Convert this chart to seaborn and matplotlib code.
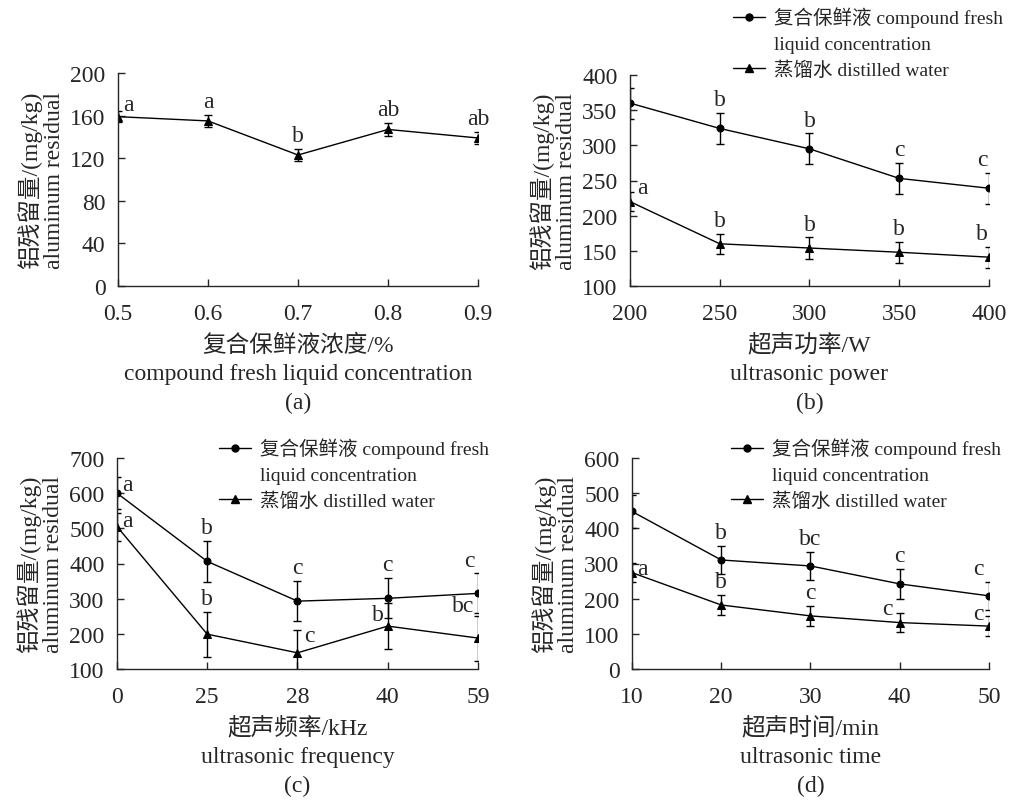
import matplotlib
matplotlib.use("Agg")
import matplotlib.pyplot as plt
from matplotlib.lines import Line2D
import numpy as np
import seaborn as sns

# (a) compound fresh liquid concentration
conc = [0.5, 0.6, 0.7, 0.8, 0.9]
conc_mean = [159, 155, 123, 147, 139]
conc_err = [5, 6, 6, 6, 6]
conc_letters = ["a", "a", "b", "ab", "ab"]

# (b) ultrasonic power
power = [200, 250, 300, 350, 400]
power_fresh = [360, 324, 295, 253, 239]
power_fresh_err = [22, 22, 22, 22, 22]
power_fresh_letters = ["", "b", "b", "c", "c"]
power_water = [220, 160, 154, 148, 141]
power_water_err = [14, 14, 15, 15, 15]
power_water_letters = ["a", "b", "b", "b", "b"]

# (c) ultrasonic frequency (categorical axis)
freq_labels = ["0", "25", "28", "40", "59"]
freq_fresh = [600, 406, 293, 301, 315]
freq_fresh_err = [45, 58, 57, 57, 57]
freq_fresh_letters = ["a", "b", "c", "c", "c"]
freq_water = [505, 199, 146, 222, 188]
freq_water_err = [40, 64, 65, 65, 64]
freq_water_letters = ["a", "b", "c", "b", "bc"]

# (d) ultrasonic time
time_min = [10, 20, 30, 40, 50]
time_fresh = [448, 310, 293, 242, 208]
time_fresh_err = [46, 41, 41, 42, 39]
time_fresh_letters = ["", "b", "bc", "c", "c"]
time_water = [274, 182, 151, 132, 122]
time_water_err = [28, 28, 28, 28, 28]
time_water_letters = ["a", "b", "c", "c", "c"]

FRESH = "复合保鲜液 compound fresh"
FRESH2 = "liquid concentration"
WATER = "蒸馏水 distilled water"
YLABEL = "铝残留量/(mg/kg)\naluminum residual"

sns.set_style("ticks")
plt.rcParams["font.family"] = ["Liberation Serif", "Noto Sans CJK SC"]
plt.rcParams["axes.linewidth"] = 1.0

FS = 17
C = (0, 2, "center", "bottom")   # default letter placement


def series(ax, xs, ys, errs, marker, ms):
    sns.lineplot(x=xs, y=ys, ax=ax, color="black", marker=marker, markersize=ms,
                 markeredgecolor="black", linewidth=1, errorbar=None)
    ax.errorbar(xs, ys, yerr=errs, fmt="none", ecolor="black", elinewidth=1,
                capsize=3, capthick=1)


def letters(ax, xs, ys, errs, labels, places):
    for x, y, e, t, (dx, dy, ha, va) in zip(xs, ys, errs, labels, places):
        ax.annotate(t, (x, y + e), xytext=(dx, dy), textcoords="offset points",
                    ha=ha, va=va, fontsize=FS, annotation_clip=False)


def style(ax, xlim, ylim, yticks, xlabel):
    ax.set_xlim(*xlim)
    ax.set_ylim(*ylim)
    ax.set_yticks(yticks)
    sns.despine(ax=ax)
    ax.tick_params(direction="in", length=5, width=1, labelsize=FS)
    ax.tick_params(axis="x", pad=12)
    ax.tick_params(axis="y", pad=9)
    ax.set_ylabel(YLABEL, fontsize=FS, labelpad=4, linespacing=1.1)
    ax.set_xlabel(xlabel, fontsize=FS, labelpad=7, linespacing=1.46)


def legend(ax, fig, x, y):
    h1 = Line2D([], [], color="black", marker="o", markersize=5, linewidth=1)
    hb = Line2D([], [], linestyle="none")
    h2 = Line2D([], [], color="black", marker="^", markersize=5.5, linewidth=1)
    ax.legend([h1, hb, h2], [FRESH, FRESH2, WATER], loc="upper left",
              bbox_to_anchor=(x, y), bbox_transform=fig.transFigure,
              frameon=False, fontsize=14, borderpad=0, handlelength=1.65,
              handletextpad=0.45, labelspacing=0.4)


fig = plt.figure(figsize=(10.12, 8.03), dpi=100)
W, H = 1012, 803


def axes_px(l, t, r, b):
    return fig.add_axes([l / W, 1 - b / H, (r - l) / W, (b - t) / H])


# (a)
ax = axes_px(118, 74, 478, 287)
series(ax, conc, conc_mean, conc_err, "^", 5.5)
letters(ax, conc, conc_mean, conc_err, conc_letters,
        [(4, 5, "left", "center"), C, C, C, C])
style(ax, (0.5, 0.9), (0, 200), np.arange(0, 201, 40),
      "复合保鲜液浓度/%\ncompound fresh liquid concentration\n(a)")
ax.set_xticks(conc)

# (b)
ax = axes_px(630, 76, 989, 287)
series(ax, power, power_fresh, power_fresh_err, "o", 5)
series(ax, power, power_water, power_water_err, "^", 5.5)
letters(ax, power, power_fresh, power_fresh_err, power_fresh_letters,
        [C, C, C, C, (-5, 2, "center", "bottom")])
letters(ax, power, power_water, power_water_err, power_water_letters,
        [(5, 3, "left", "center"), C, C, C, (-5, 2, "center", "bottom")])
style(ax, (200, 400), (100, 400), np.arange(100, 401, 50),
      "超声功率/W\nultrasonic power\n(b)")
ax.set_xticks(power)
legend(ax, fig, 723 / W, 1 + 2 / H)

# (c)
pos = np.arange(len(freq_labels))
ax = axes_px(117, 459, 478, 670)
series(ax, pos, freq_fresh, freq_fresh_err, "o", 5)
series(ax, pos, freq_water, freq_water_err, "^", 5.5)
letters(ax, pos, freq_fresh, freq_fresh_err, freq_fresh_letters,
        [(4, -5, "left", "center"), C, C, C, (-6, 2, "center", "bottom")])
letters(ax, pos, freq_water, freq_water_err, freq_water_letters,
        [(4, -6, "left", "center"), C, (5, -4, "left", "center"),
         (-3, -8, "right", "center"), (-3, 7, "right", "center")])
style(ax, (0, 4), (100, 700), np.arange(100, 701, 100),
      "超声频率/kHz\nultrasonic frequency\n(c)")
ax.set_xticks(pos)
ax.set_xticklabels(freq_labels)
legend(ax, fig, 209 / W, 1 - 429 / H)

# (d)
ax = axes_px(632, 459, 989, 670)
series(ax, time_min, time_fresh, time_fresh_err, "o", 5)
series(ax, time_min, time_water, time_water_err, "^", 5.5)
letters(ax, time_min, time_fresh, time_fresh_err, time_fresh_letters,
        [C, C, C, C, (-8, 2, "center", "bottom")])
letters(ax, time_min, time_water, time_water_err, time_water_letters,
        [(4, -4, "left", "center"), C, C, (-9, 3, "center", "center"),
         (-8, 2, "center", "center")])
style(ax, (10, 50), (0, 600), np.arange(0, 601, 100),
      "超声时间/min\nultrasonic time\n(d)")
ax.set_xticks(time_min)
legend(ax, fig, 721 / W, 1 - 429 / H)

fig.savefig("out.png", dpi=100)
